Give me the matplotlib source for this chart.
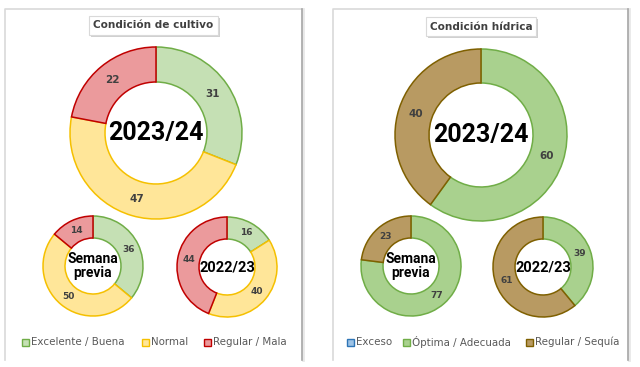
import matplotlib
matplotlib.use("Agg")
import matplotlib.pyplot as plt
from matplotlib.patches import Rectangle
import numpy as np

# ---- data ----
cult_labels = ["Excelente / Buena", "Normal", "Regular / Mala"]
cult_2324 = [31, 47, 22]
cult_prev = [36, 50, 14]
cult_2223 = [16, 40, 44]

hid_labels = ["Exceso", "Óptima / Adecuada", "Regular / Sequía"]
hid_2324 = [0, 60, 40]
hid_prev = [0, 77, 23]
hid_2223 = [0, 39, 61]

center_labels = ["2023/24", "Semana\nprevia", "2022/23"]
titles = ["Condición de cultivo", "Condición hídrica"]

cult_fill = ["#c5e0b4", "#ffe699", "#eb9a9c"]
cult_edge = ["#70ad47", "#f5c000", "#c00000"]
hid_fill = ["#9dc3e6", "#a9d18e", "#b89a62"]
hid_edge = ["#2e75b6", "#70ad47", "#7f6000"]

NARROW = ["Roboto", "DejaVu Sans"]

W, H = 640, 367
fig = plt.figure(figsize=(6.4, 3.67), dpi=100)
ax = fig.add_axes([0, 0, 1, 1])

def Y(py):
    return H - py

# frames
for (x0, x1) in [(5, 302), (333, 628)]:
    ax.plot([x0, x0, x1], [Y(360), Y(9), Y(9)], color="#d9d9d9", lw=1.2, zorder=1)
    ax.plot([x1 + 1, x1 + 1], [Y(9), Y(360)], color="#e8e8e8", lw=2.0, zorder=1)
    ax.plot([x1, x1], [Y(9), Y(360)], color="#a6a6a6", lw=1.2, zorder=1)

def donut(vals, fills, edges, cx, cy, r, rin, lab_fs, center, c_fs):
    v = np.array(vals, dtype=float)
    idx = [i for i in range(len(v)) if v[i] > 0]
    wedges, _ = ax.pie(v[idx], radius=r, center=(cx, Y(cy)), startangle=90,
                       counterclock=False, colors=[fills[i] for i in idx],
                       wedgeprops=dict(width=r - rin, linewidth=1.1))
    for w, i in zip(wedges, idx):
        w.set_edgecolor(edges[i])
    total = v.sum()
    start = 90.0
    rm = (r + rin) / 2
    for i in range(len(v)):
        if v[i] <= 0:
            continue
        ang = start - v[i] / total * 360 / 2
        start -= v[i] / total * 360
        a = np.deg2rad(ang)
        ax.text(cx + rm * np.cos(a), Y(cy) + rm * np.sin(a), f"{int(vals[i])}",
                ha="center", va="center", fontsize=lab_fs, fontweight="bold",
                color="#404040", zorder=5)
    ax.text(cx, Y(cy), center, ha="center", va="center", fontsize=c_fs,
            fontweight="bold", color="#000000", linespacing=1.0, zorder=5,
            family=NARROW)

# left panel
donut(cult_2324, cult_fill, cult_edge, 156, 133, 86, 51, 7.5, center_labels[0], 18)
donut(cult_prev, cult_fill, cult_edge, 93, 266, 50, 28, 6.5, center_labels[1], 10)
donut(cult_2223, cult_fill, cult_edge, 227, 267, 50, 28, 6.5, center_labels[2], 10.5)
# right panel
donut(hid_2324, hid_fill, hid_edge, 481, 135, 86, 52, 7.5, center_labels[0], 18)
donut(hid_prev, hid_fill, hid_edge, 411, 266, 50, 28, 6.5, center_labels[1], 10)
donut(hid_2223, hid_fill, hid_edge, 543, 267, 50, 28, 6.5, center_labels[2], 10.5)

# titles
for t, (cx, cy, bw) in zip(titles, [(153, 26, 129), (481, 27, 110)]):
    ax.add_patch(Rectangle((cx - bw / 2 + 2, Y(cy) - 11), bw, 19, facecolor="#d0d0d0",
                           edgecolor="none", zorder=2))
    ax.add_patch(Rectangle((cx - bw / 2, Y(cy) - 9), bw, 19, facecolor="white",
                           edgecolor="#d9d9d9", lw=0.8, zorder=3))
    ax.text(cx, Y(cy) + 0.5, t, ha="center", va="center", fontsize=7.6,
            fontweight="bold", color="#404040", zorder=4)

def legend(labels, fills, edges, xs, y):
    for lab, f, e, x in zip(labels, fills, edges, xs):
        ax.add_patch(Rectangle((x, Y(y) - 3.5), 7, 7, facecolor=f, edgecolor=e, lw=1.0, zorder=4))
        ax.text(x + 9, Y(y), lab, ha="left", va="center", fontsize=7.4,
                color="#595959", zorder=4)

legend(cult_labels, cult_fill, cult_edge, [22, 142, 204], 342)
legend(hid_labels, hid_fill, hid_edge, [347, 403, 526], 342)

ax.set_xlim(0, W)
ax.set_ylim(0, H)
ax.set_aspect("equal")
ax.axis("off")

fig.savefig("out.png", dpi=100)
